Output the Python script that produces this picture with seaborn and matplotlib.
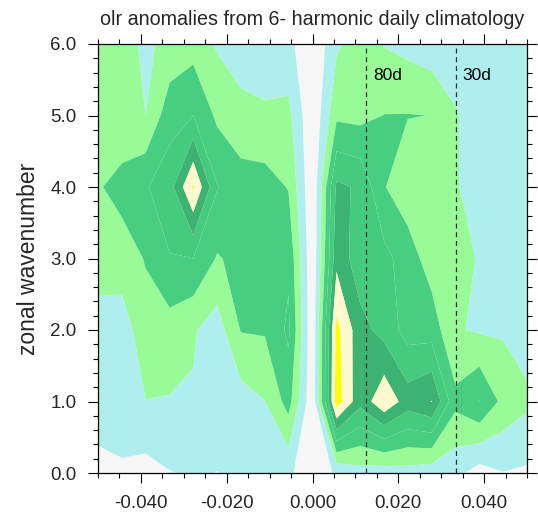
import matplotlib
matplotlib.use("Agg")
import numpy as np
import pandas as pd
import matplotlib.pyplot as plt
import seaborn as sns
from matplotlib.ticker import MultipleLocator, FuncFormatter

# ---------------- data ----------------
frequency = [-0.0500, -0.0444, -0.0389, -0.0333, -0.0278, -0.0222, -0.0167,
             -0.0111, -0.0056, 0.0, 0.0056, 0.0111, 0.0167, 0.0222, 0.0278,
             0.0333, 0.0389, 0.0444, 0.0500]
wavenumber = [0, 1, 2, 3, 4, 5, 6]

power_wn0 = [0.69, 0.84, 0.63, 0.96, 1.10, 0.98, 1.20, 1.30, 1.21, 0.20,
             1.16, 1.60, 1.47, 1.60, 1.40, 1.28, 0.55, 0.97, 0.85]
power_wn1 = [1.50, 1.60, 1.98, 1.94, 1.91, 1.60, 1.55, 1.98, 3.40, 0.20,
             7.50, 5.30, 6.80, 5.50, 6.03, 3.28, 4.05, 2.72, 2.20]
power_wn2 = [1.52, 1.42, 2.69, 2.57, 2.10, 1.51, 3.05, 3.10, 4.20, 0.20,
             7.30, 5.36, 4.64, 3.60, 3.56, 2.07, 1.90, 1.88, 1.53]
power_wn3 = [2.50, 2.60, 3.05, 3.95, 4.00, 2.91, 3.30, 3.50, 3.80, 0.15,
             5.70, 4.40, 4.30, 3.50, 2.50, 2.30, 1.94, 1.60, 1.50]
power_wn4 = [2.92, 3.30, 3.90, 4.60, 7.10, 4.05, 3.40, 3.40, 2.95, 0.10,
             5.20, 4.86, 3.05, 2.40, 2.30, 2.10, 1.50, 1.40, 1.40]
power_wn5 = [2.50, 2.40, 2.00, 3.60, 4.00, 2.80, 2.40, 2.20, 2.27, 0.10,
             2.80, 2.70, 3.02, 3.03, 2.99, 2.08, 1.50, 1.40, 1.40]
power_wn6 = [2.50, 2.40, 1.80, 2.30, 2.60, 1.88, 1.35, 1.25, 1.30, 0.05,
             1.83, 2.50, 1.95, 1.70, 1.40, 1.50, 1.50, 1.50, 1.50]

contour_levels = [-10, 1, 2, 3, 4, 5, 6, 7, 100]
fill_colors = ["#F6F6F6", "#AFEEEE", "#98FB98", "#47CE81", "#44CB7E",
               "#3CB371", "#FFFACD", "#FFFF00"]

period_freqs = [1 / 80, 1 / 30]
period_labels = ["80d", "30d"]
period_label_x = [0.0142, 0.0349]
period_label_y = 5.56

x_ticks = [-0.04, -0.02, 0.0, 0.02, 0.04]
y_ticks = [0, 1, 2, 3, 4, 5, 6]

title = "olr anomalies from 6- harmonic daily climatology"
ylabel = "zonal wavenumber"

# ---------------- figure ----------------
sns.set_theme(style="ticks")
plt.rcParams["font.family"] = ["Liberation Sans", "DejaVu Sans"]

rows = [power_wn0, power_wn1, power_wn2, power_wn3, power_wn4, power_wn5, power_wn6]
df = pd.DataFrame(rows, index=wavenumber, columns=frequency)

fig = plt.figure(figsize=(5.38, 5.16), dpi=100)
ax = fig.add_axes([98 / 538, 43 / 516, 429 / 538, 429 / 516])

X, Y = np.meshgrid(df.columns.values, df.index.values)
ax.contourf(X, Y, df.values, levels=contour_levels, colors=fill_colors,
            antialiased=True)

for f in period_freqs:
    ax.axvline(f, color="#333333", lw=0.9, ls=(0, (4, 3)))
for xl, lab in zip(period_label_x, period_labels):
    ax.text(xl, period_label_y, lab, fontsize=12.5, ha="left", va="center",
            color="black")

ax.set_xlim(-0.05, 0.05)
ax.set_ylim(0, 6)
ax.set_xticks(x_ticks)
ax.set_yticks(y_ticks)
ax.xaxis.set_minor_locator(MultipleLocator(0.005))
ax.yaxis.set_minor_locator(MultipleLocator(0.2))


def fmt_x(v, pos):
    s = f"{v:.3f}"
    return "0.000" if s == "-0.000" else s


ax.xaxis.set_major_formatter(FuncFormatter(fmt_x))
ax.yaxis.set_major_formatter(FuncFormatter(lambda v, p: f"{v:.1f}"))

ax.tick_params(which="both", direction="out", top=True, right=True,
               labeltop=False, labelright=False, color="black", width=0.8)
ax.tick_params(which="major", length=7.5, labelsize=13.5, pad=8)
ax.tick_params(which="minor", length=3.5)
for sp in ax.spines.values():
    sp.set_linewidth(0.9)
    sp.set_color("black")

ax.set_title(title, fontsize=14.2, pad=14)
ax.set_ylabel(ylabel, fontsize=16.5)
ax.yaxis.set_label_coords(-0.135, 0.5)

fig.savefig("out.png", dpi=100)
